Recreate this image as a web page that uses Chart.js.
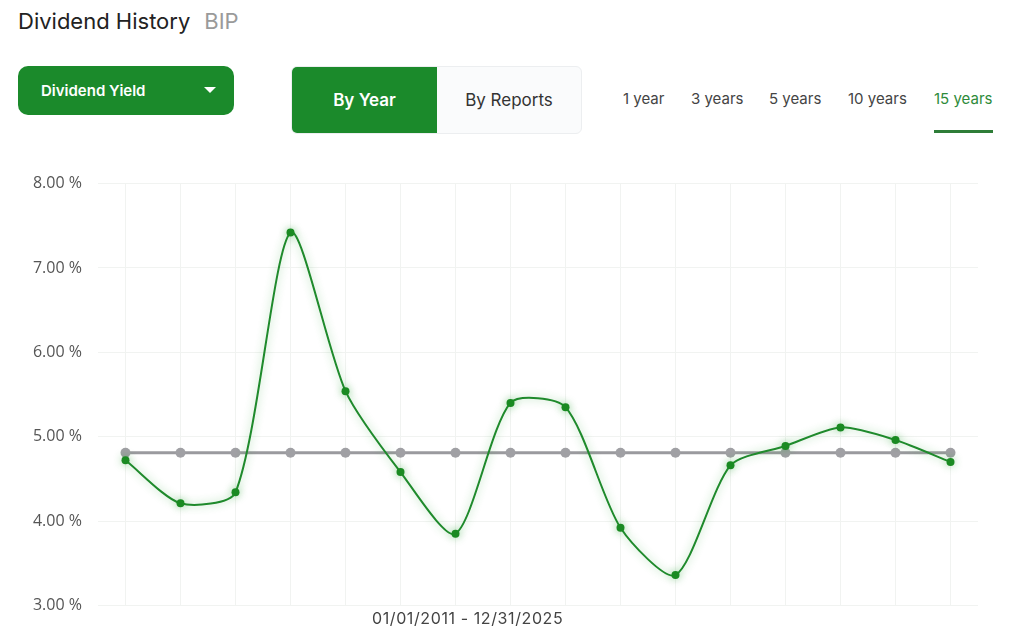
<!DOCTYPE html>
<html>
<head>
<meta charset="utf-8">
<script src="https://cdn.jsdelivr.net/npm/chart.js@4.4.1/dist/chart.umd.min.js"></script>
<style>
  html,body{margin:0;padding:0;background:#fff;width:1024px;height:635px;overflow:hidden;font-family:Inter, "Noto Sans", sans-serif;}
  .title{position:absolute;left:18px;top:8px;font-size:22px;color:#222;letter-spacing:0px;}
  .title span{color:#9a9a9a;margin-left:14px;}
  .dd{position:absolute;left:18px;top:66px;width:216px;height:49px;background:#1b8a2b;border-radius:10px;color:#fff;font-size:15px;font-weight:600;}
  .dd .t{position:absolute;left:23px;top:15px;}
  .dd .c{position:absolute;left:186px;top:21px;width:0;height:0;border-left:6px solid transparent;border-right:6px solid transparent;border-top:6px solid #fff;}
  .tg{position:absolute;left:291px;top:66px;width:289px;height:66px;border:1px solid #eceef0;border-radius:6px;background:#fafbfc;overflow:hidden;}
  .tg .a{position:absolute;left:0;top:0;width:145px;height:66px;background:#1b8a2b;color:#fff;font-size:17px;font-weight:600;text-align:center;line-height:66px;}
  .tg .b{position:absolute;left:145px;top:0;width:144px;height:66px;color:#333;font-size:17px;text-align:center;line-height:66px;}
  .tab{position:absolute;top:89px;font-size:15px;color:#444;}
  .tab.on{color:#2e8b3a;}
  .ul{position:absolute;left:934px;top:130px;width:59px;height:3px;background:#2e7d38;}
  #wrap{position:absolute;left:0;top:158px;width:1024px;height:473px;}
  .xl{position:absolute;left:372px;top:608px;font-size:16px;letter-spacing:0.6px;color:#444;}
</style>
</head>
<body>
<div class="title">Dividend History<span>BIP</span></div>
<div class="dd"><div class="t">Dividend Yield</div><div class="c"></div></div>
<div class="tg"><div class="a">By Year</div><div class="b">By Reports</div></div>
<div class="tab" style="left:623px">1 year</div>
<div class="tab" style="left:691px">3 years</div>
<div class="tab" style="left:769px">5 years</div>
<div class="tab" style="left:848px">10 years</div>
<div class="tab on" style="left:934px">15 years</div>
<div class="ul"></div>
<div id="wrap"><canvas id="c"></canvas></div>
<div class="xl">01/01/2011 - 12/31/2025</div>
<script>
const years = ["2010","2011","2012","2013","2014","2015","2016","2017","2018","2019","2020","2021","2022","2023","2024","2025"];
const dividendYield = [4.72,4.21,4.34,7.42,5.54,4.58,3.85,5.40,5.35,3.92,3.36,4.66,4.89,5.11,4.96,4.70];
const averageYield = [4.81,4.81,4.81,4.81,4.81,4.81,4.81,4.81,4.81,4.81,4.81,4.81,4.81,4.81,4.81,4.81];
const yTicks = [3,4,5,6,7,8];

const glow = {
  id:'glow',
  beforeDatasetDraw(chart,args){
    if(args.index===0){chart.ctx.save();chart.ctx.shadowColor='rgba(40,160,50,0.45)';chart.ctx.shadowBlur=9;}
  },
  afterDatasetDraw(chart,args){
    if(args.index===0){chart.ctx.restore();}
  }
};

new Chart(document.getElementById('c'),{
  type:'line',
  data:{
    labels:years,
    datasets:[
      {label:'Dividend Yield',data:dividendYield,borderColor:'#1f8a2c',backgroundColor:'#1a8a22',borderWidth:2,tension:0.25,pointRadius:4,pointBorderWidth:0,pointBackgroundColor:'#1a8a22',order:0},
      {label:'Average',data:averageYield,borderColor:'#9a9a9e',backgroundColor:'#9a9a9e',borderWidth:3,tension:0,pointRadius:5,pointBorderWidth:0,pointBackgroundColor:'#a0a0a4',order:1}
    ]
  },
  options:{
    responsive:true,maintainAspectRatio:false,animation:false,
    layout:{padding:{left:0,right:46,top:3,bottom:4}},
    plugins:{legend:{display:false},tooltip:{enabled:false}},
    scales:{
      x:{offset:true,grid:{offset:false,color:'#f1f3f1',drawTicks:false},border:{display:false},ticks:{display:false}},
      y:{min:3,max:8,
        afterBuildTicks(s){s.ticks=yTicks.map(v=>({value:v}));},
        afterFit(s){s.width=98;},
        grid:{color:'#f1f3f1',drawTicks:false},border:{display:false},
        ticks:{padding:16,color:'#555',font:{family:'"Open Sans", sans-serif',size:16},callback:v=>v.toFixed(2)+' %'}}
    }
  },
  plugins:[glow]
});
</script>
</body>
</html>
